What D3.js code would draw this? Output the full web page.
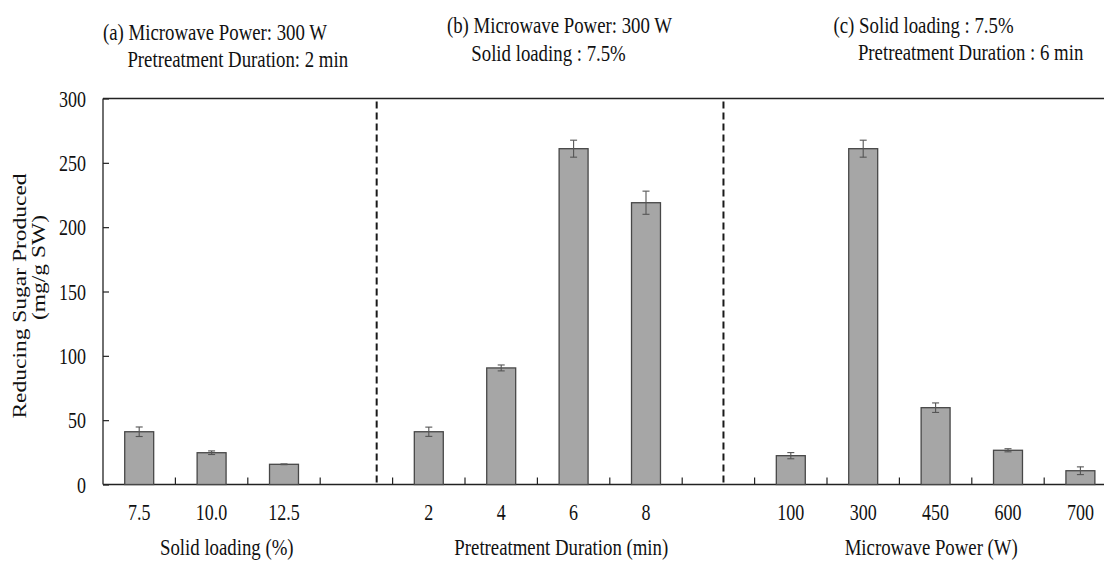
<!DOCTYPE html>
<html>
<head>
<meta charset="utf-8">
<script src="https://cdn.jsdelivr.net/npm/d3@7"></script>
<style>
    body { margin: 0; background: #fff; }
</style>
</head>
<body>
<div id="chart"></div>
<script>
// (a) solid loading series
let solidLabels = ["7.5", "10.0", "12.5"];
let solidValues = [41, 24.7, 15.7];
let solidErrors = [3.7, 1.4, 0.3];

// (b) pretreatment duration series
let durationLabels = ["2", "4", "6", "8"];
let durationValues = [41, 90.6, 261, 219];
let durationErrors = [3.6, 2.3, 6.6, 9];

// (c) microwave power series
let powerLabels = ["100", "300", "450", "600", "700"];
let powerValues = [22.4, 261, 59.7, 26.6, 10.7];
let powerErrors = [2.4, 6.6, 3.7, 1.2, 3];

let yTicks = [0, 50, 100, 150, 200, 250, 300];
let groupTitles = ["Solid loading (%)", "Pretreatment Duration (min)", "Microwave Power (W)"];
let groupNotes = [
    ["(a) Microwave Power: 300 W", "Pretreatment Duration: 2 min"],
    ["(b) Microwave Power: 300 W", "Solid loading : 7.5%"],
    ["(c) Solid loading : 7.5%", "Pretreatment Duration : 6 min"]
];
let yTitle = ["Reducing Sugar Produced", "(mg/g SW)"];

let groups = [
    {labels: solidLabels, values: solidValues, errors: solidErrors},
    {labels: durationLabels, values: durationValues, errors: durationErrors},
    {labels: powerLabels, values: powerValues, errors: powerErrors}
];

// one slot per bar, plus an empty slot after each group (like the original sheet)
let slots = [];
groups.forEach((g, gi) => {
    g.labels.forEach((l, i) => {
        slots.push({key: gi + "_" + l, label: l, value: g.values[i], err: g.errors[i]});
    });
    if (gi < groups.length - 1) slots.push({key: "gap" + gi, label: "", value: null});
});

// layout, in slot units where it is relative to the categories
var SY = 1.25;   // the source picture is stretched vertically, text too
var FONT = "'Liberation Serif', 'Times New Roman', serif";
var margin = {left: 103, top: 98.5},
    slotWidth = 72.4,
    plotRight = margin.left + slots.length * slotWidth,   // runs past the window edge, as in the source crop
    baseY = 484.5;
var dividerAt = [3.78, 8.57];
var titleAt = [1.71, 6.33, 11.44];
var noteAt = [{u: 0, y: [40, 66.7]}, {u: 4.75, y: [33.3, 60.5]}, {u: 10.09, y: [33.3, 60.3]}];

var svg = d3.select("#chart")
    .append("svg")
    .attr("width", 1104)
    .attr("height", 561);

var x = d3.scaleBand()
    .domain(slots.map(d => d.key))
    .range([margin.left, plotRight]);
var u = d3.scaleLinear()
    .domain([0, slots.length])
    .range([margin.left, plotRight]);
var y = d3.scaleLinear()
    .domain([0, 300])
    .range([baseY, margin.top]);

function stretched(sel, px, py) {
    sel.attr("transform", "translate(" + px + "," + py + ") scale(1," + SY + ")");
}

// Y axis (ticks point inward)
var yAxis = svg.append("g")
    .attr("transform", "translate(" + margin.left + ",0)")
    .call(d3.axisLeft(y).tickValues(yTicks).tickSizeInner(-6).tickSizeOuter(0).tickPadding(17));
yAxis.select(".domain").remove();
yAxis.selectAll("line").attr("stroke", "#222").attr("stroke-width", 1.2);
yAxis.selectAll("text")
    .attr("font-size", 18)
    .attr("dy", "0.34em")
    .attr("transform", "scale(1," + SY + ")");

// frame: left, top and bottom lines
var frame = svg.append("g").attr("stroke", "#222").attr("stroke-width", 1.3);
frame.append("line").attr("x1", margin.left).attr("x2", margin.left).attr("y1", y(300)).attr("y2", y(0));
frame.append("line").attr("x1", margin.left).attr("x2", plotRight).attr("y1", y(300)).attr("y2", y(300));
frame.append("line").attr("x1", margin.left).attr("x2", plotRight).attr("y1", y(0)).attr("y2", y(0));

// x ticks sit on the slot borders
svg.append("g").selectAll("line")
    .data(slots.slice(1))
    .enter()
    .append("line")
    .attr("x1", d => x(d.key))
    .attr("x2", d => x(d.key))
    .attr("y1", y(0))
    .attr("y2", y(0) - 7)
    .attr("stroke", "#222")
    .attr("stroke-width", 1.2);

// dashed group separators
svg.append("g").selectAll("line")
    .data(dividerAt)
    .enter()
    .append("line")
    .attr("x1", d => u(d))
    .attr("x2", d => u(d))
    .attr("y1", y(300) + 3)
    .attr("y2", y(0))
    .attr("stroke", "#1a1a1a")
    .attr("stroke-width", 2)
    .attr("stroke-dasharray", "7,4");

// bars
var filled = slots.filter(d => d.value !== null);
var bw = x.bandwidth() * 0.4;

svg.append("g").selectAll("rect")
    .data(filled)
    .enter()
    .append("rect")
    .attr("x", d => x(d.key) + (x.bandwidth() - bw) / 2)
    .attr("y", d => y(d.value))
    .attr("width", bw)
    .attr("height", d => y(0) - y(d.value))
    .attr("fill", "#a6a6a6")
    .attr("stroke", "#474747")
    .attr("stroke-width", 1.3);

// error bars
var err = svg.append("g").attr("stroke", "#555").attr("stroke-width", 1.1);
filled.forEach(d => {
    let cx = x(d.key) + x.bandwidth() / 2;
    err.append("line").attr("x1", cx).attr("x2", cx).attr("y1", y(d.value + d.err)).attr("y2", y(d.value - d.err));
    err.append("line").attr("x1", cx - 3.5).attr("x2", cx + 3.5).attr("y1", y(d.value + d.err)).attr("y2", y(d.value + d.err));
    err.append("line").attr("x1", cx - 3.5).attr("x2", cx + 3.5).attr("y1", y(d.value - d.err)).attr("y2", y(d.value - d.err));
});

// category labels
svg.append("g").selectAll("text")
    .data(filled)
    .enter()
    .append("text")
    .attr("text-anchor", "middle")
    .attr("font-size", 18)
    .text(d => d.label)
    .each(function (d) { stretched(d3.select(this), x(d.key) + x.bandwidth() / 2, 519.5); });

// group axis titles
svg.append("g").selectAll("text")
    .data(groupTitles)
    .enter()
    .append("text")
    .attr("text-anchor", "middle")
    .attr("font-size", 18.8)
    .text(d => d)
    .each(function (d, i) { stretched(d3.select(this), u(titleAt[i]), 555); });

// condition notes above each group
groupNotes.forEach((lines, i) => {
    lines.forEach((t, j) => {
        svg.append("text")
            .attr("font-size", 18.8)
            .text(t)
            .call(stretched, u(noteAt[i].u) + (j === 0 ? 0 : 24.4), noteAt[i].y[j]);
    });
});

// rotated y title, two lines
var yTitleX = [25.5, 44.5], yTitleMid = [296, 267.5];
yTitle.forEach((t, i) => {
    svg.append("text")
        .attr("text-anchor", "middle")
        .attr("font-size", 18.8)
        .attr("transform", "translate(" + yTitleX[i] + "," + yTitleMid[i] + ") rotate(-90) scale(" + SY + ",1)")
        .text(t);
});

// serif everywhere, like the source
svg.selectAll("text")
    .style("font-family", FONT)
    .style("fill", "#111");
</script>
</body>
</html>
